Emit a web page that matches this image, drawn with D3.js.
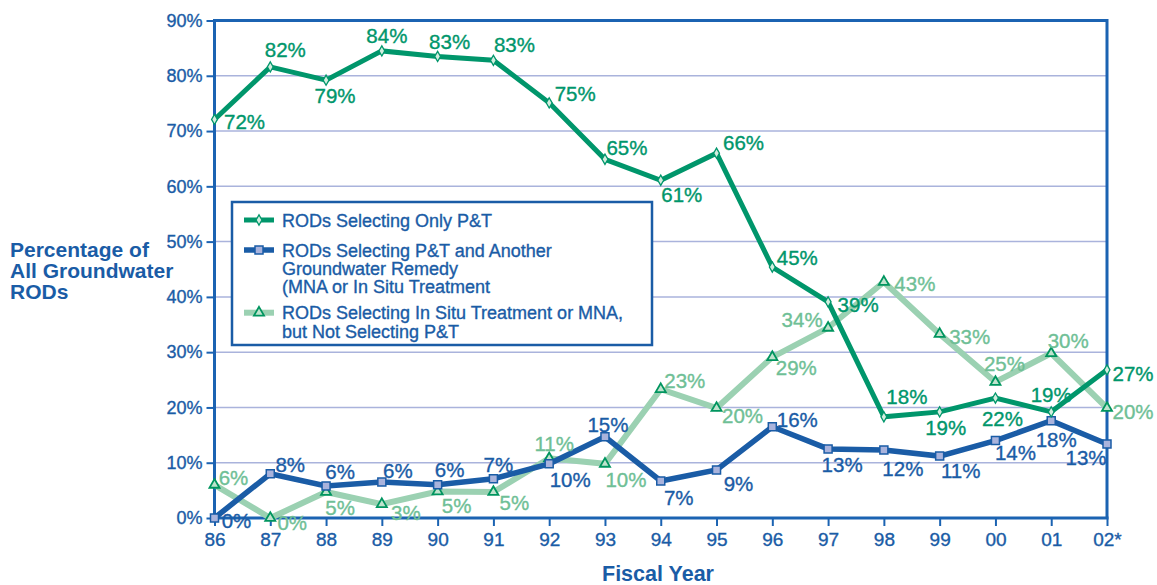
<!doctype html>
<html>
<head>
   <meta charset="utf-8">
   <title>Groundwater RODs by Fiscal Year</title>
   <style>
      body { margin: 0; background: #fff; }
      svg text { font-family: "Liberation Sans", Arial, Helvetica, sans-serif; }
      svg text.heavy { stroke-width: 0.35px; }
   </style>
</head>
<script src="https://d3js.org/d3.v7.min.js"></script>
<body>
<svg width="1157" height="585"></svg>
<script>
   // ---- data ----
   var YEARS = ["86","87","88","89","90","91","92","93","94","95","96","97","98","99","00","01","02*"];
   var Y_TICKS = [0,10,20,30,40,50,60,70,80,90];

   var ONLY_PT = [72.1, 81.6, 79.2, 84.5, 83.5, 82.8, 75.1, 64.9, 61.1, 66.0, 45.4, 39.1, 18.3, 19.2, 21.7, 19.2, 26.8];
   var ONLY_PT_LABELS = ["72%","82%","79%","84%","83%","83%","75%","65%","61%","66%","45%","39%","18%","19%","22%","19%","27%"];

   var PT_PLUS = [0, 8.0, 5.8, 6.5, 6.0, 7.1, 9.8, 14.7, 6.7, 8.7, 16.5, 12.5, 12.3, 11.2, 14.0, 17.6, 13.4];
   var PT_PLUS_LABELS = ["0%","8%","6%","6%","6%","7%","10%","15%","7%","9%","16%","13%","12%","11%","14%","18%","13%"];

   var IN_SITU = [6.0, 0, 4.7, 2.5, 4.8, 4.7, 10.8, 9.8, 23.3, 19.9, 29.1, 34.4, 42.7, 33.3, 24.6, 29.8, 19.9];
   var IN_SITU_LABELS = ["6%","0%","5%","3%","5%","5%","11%","10%","23%","20%","29%","34%","43%","33%","25%","30%","20%"];

   var LEGEND_TEXT = [
      ["RODs Selecting Only P&T"],
      ["RODs Selecting P&T and Another", "Groundwater Remedy", "(MNA or In Situ Treatment"],
      ["RODs Selecting In Situ Treatment or MNA,", "but Not Selecting P&T"]
   ];

   // label placement (centre offset from the point), kept apart from the values
   var ONLY_PT_OFF = [[30,2],[15,-17],[9,15],[5,-15],[12,-15],[21,-16],[26,-9],[22,-12],[21,14],[27,-11],[25,-10],[30,3],[23,-20],[6,16],[7,20],[0,-17],[26,4]];
   var PT_PLUS_OFF = [[22,2],[20,-9],[14,-14],[16,-12],[12,-15],[5,-14],[21,16],[3,-12],[18,17],[22,14],[25,-7],[14,16],[19,18],[21,14],[20,12],[5,19],[-21,14]];
   var IN_SITU_OFF = [[19,-7],[22,4],[14,15],[24,8],[19,14],[21,10],[5,-15],[21,16],[24,-9],[26,8],[24,10],[-26,-8],[31,2],[30,3],[9,-19],[17,-13],[26,4]];

   var BLUE = "#1a5ca6";
   var AXIS_BLUE = "#1b63b2";
   var GREEN = "#00966b";
   var LIGHT_GREEN = "#9bd1b2";
   var LIGHT_GREEN_TEXT = "#6fbf96";
   var GRID = "#aab3dc";

   var plotLeft = 214.5, plotRight = 1107, plotTop = 20.5, plotBottom = 518;

   var svg = d3.select("svg");

   var xs = d3.scalePoint().domain(YEARS).range([plotLeft, plotRight]);
   var ys = d3.scaleLinear().domain([0, 90]).range([plotBottom, plotTop]);

   // gridlines
   svg.append("g")
      .selectAll("line")
      .data(Y_TICKS.filter(function(d) { return d > 0 && d < 90; }))
      .enter().append("line")
         .attr("x1", plotLeft).attr("x2", plotRight)
         .attr("y1", function(d) { return ys(d); })
         .attr("y2", function(d) { return ys(d); })
         .attr("stroke", GRID)
         .attr("stroke-width", 1.5);

   // frame top / right
   svg.append("path")
      .attr("d", "M" + plotLeft + "," + plotTop + "H" + plotRight + "V" + plotBottom)
      .attr("fill", "none")
      .attr("stroke", AXIS_BLUE)
      .attr("stroke-width", 3);

   // y axis
   var yAxis = svg.append("g")
      .attr("transform", "translate(" + plotLeft + ",0)")
      .call(d3.axisLeft(ys).tickValues(Y_TICKS).tickFormat(function(d) { return d + "%"; }).tickSize(8).tickPadding(4));
   yAxis.selectAll("text").attr("fill", BLUE).attr("stroke", BLUE).attr("class", "heavy").style("font-size", "18px");

   // x axis
   var xAxis = svg.append("g")
      .attr("transform", "translate(0," + plotBottom + ")")
      .call(d3.axisBottom(xs).tickSize(8).tickPadding(7));
   xAxis.selectAll("text").attr("fill", BLUE).attr("stroke", BLUE).attr("class", "heavy").style("font-size", "19px");

   [yAxis, xAxis].forEach(function(a) {
      a.select(".domain").attr("stroke", AXIS_BLUE).attr("stroke-width", 3);
      a.selectAll(".tick line").attr("stroke", AXIS_BLUE).attr("stroke-width", 2);
   });
   yAxis.select(".domain").attr("d", "M0," + (plotTop - 1.5) + "V" + (plotBottom + 1.5));
   xAxis.select(".domain").attr("d", "M" + (plotLeft - 1.5) + ",0H" + (plotRight + 1.5));

   // axis titles
   var yTitle = svg.append("text")
      .attr("x", 10).attr("y", 257)
      .attr("fill", BLUE)
      .style("font-size", "21px")
      .style("font-weight", "bold");
   ["Percentage of", "All Groundwater", "RODs"].forEach(function(t, i) {
      yTitle.append("tspan").attr("x", 10).attr("dy", i == 0 ? 0 : 21).text(t);
   });

   svg.append("text")
      .attr("x", 658).attr("y", 581)
      .attr("text-anchor", "middle")
      .attr("fill", BLUE)
      .style("font-size", "21.5px")
      .style("font-weight", "bold")
      .text("Fiscal Year");

   // legend box (drawn over the grid)
   var legend = svg.append("g");
   legend.append("rect")
      .attr("x", 232).attr("y", 202)
      .attr("width", 420).attr("height", 143)
      .attr("fill", "#fff")
      .attr("stroke", BLUE)
      .attr("stroke-width", 2.5);

   var diamond = d3.symbol().type(d3.symbolDiamond).size(30);
   var square = d3.symbol().type(d3.symbolSquare).size(64);
   var triangle = d3.symbol().type(d3.symbolTriangle).size(44);

   var SERIES = [
      { values: IN_SITU, labels: IN_SITU_LABELS, off: IN_SITU_OFF, color: LIGHT_GREEN, text: LIGHT_GREEN_TEXT, width: 6,
        sym: triangle, mfill: "#bfe3cd", mstroke: "#00955f", mw: 1.8 },
      { values: PT_PLUS, labels: PT_PLUS_LABELS, off: PT_PLUS_OFF, color: BLUE, text: BLUE, width: 5.5,
        sym: square, mfill: "#a9b3dc", mstroke: BLUE, mw: 1.5 },
      { values: ONLY_PT, labels: ONLY_PT_LABELS, off: ONLY_PT_OFF, color: GREEN, text: GREEN, width: 5,
        sym: diamond, mfill: "#d3eedf", mstroke: GREEN, mw: 1.3 }
   ];

   // legend entries: order is only P&T, P&T plus, in situ
   var legendRows = [SERIES[2], SERIES[1], SERIES[0]];
   var legendY = [220, 250, 312.7];
   legendRows.forEach(function(s, i) {
      var cy = legendY[i];
      legend.append("line")
         .attr("x1", 244).attr("x2", 274)
         .attr("y1", cy).attr("y2", cy)
         .attr("stroke", s.color)
         .attr("stroke-width", s.width);
      legend.append("path")
         .attr("d", s.sym)
         .attr("transform", "translate(259," + cy + ")")
         .attr("fill", s.mfill)
         .attr("stroke", s.mstroke)
         .attr("stroke-width", s.mw);
      var t = legend.append("text")
         .attr("x", 282).attr("y", cy + 6.5)
         .attr("fill", BLUE)
         .attr("stroke", BLUE)
         .attr("class", "heavy")
         .style("font-size", "18px");
      LEGEND_TEXT[i].forEach(function(line, j) {
         t.append("tspan").attr("x", 282).attr("dy", j == 0 ? 0 : 18.3).text(line);
      });
   });

   // series
   var line = d3.line()
      .x(function(d, i) { return xs(YEARS[i]); })
      .y(function(d) { return ys(d); });

   SERIES.forEach(function(s) {
      var g = svg.append("g");
      g.append("path")
         .datum(s.values)
         .attr("d", line)
         .attr("fill", "none")
         .attr("stroke", s.color)
         .attr("stroke-width", s.width)
         .attr("stroke-linejoin", "miter");
      g.selectAll("path.mark")
         .data(s.values)
         .enter().append("path")
            .attr("class", "mark")
            .attr("d", s.sym)
            .attr("transform", function(d, i) { return "translate(" + xs(YEARS[i]) + "," + ys(d) + ")"; })
            .attr("fill", s.mfill)
            .attr("stroke", s.mstroke)
            .attr("stroke-width", s.mw);
   });

   SERIES.forEach(function(s) {
      svg.append("g")
         .selectAll("text")
         .data(s.values)
         .enter().append("text")
            .attr("class", "heavy")
            .attr("x", function(d, i) { return xs(YEARS[i]) + s.off[i][0]; })
            .attr("y", function(d, i) { return ys(d) + s.off[i][1]; })
            .attr("text-anchor", "middle")
            .attr("dominant-baseline", "central")
            .attr("fill", s.text)
            .attr("stroke", s.text)
            .style("font-size", "20.5px")
            .text(function(d, i) { return s.labels[i]; });
   });
</script>
</body>
</html>
